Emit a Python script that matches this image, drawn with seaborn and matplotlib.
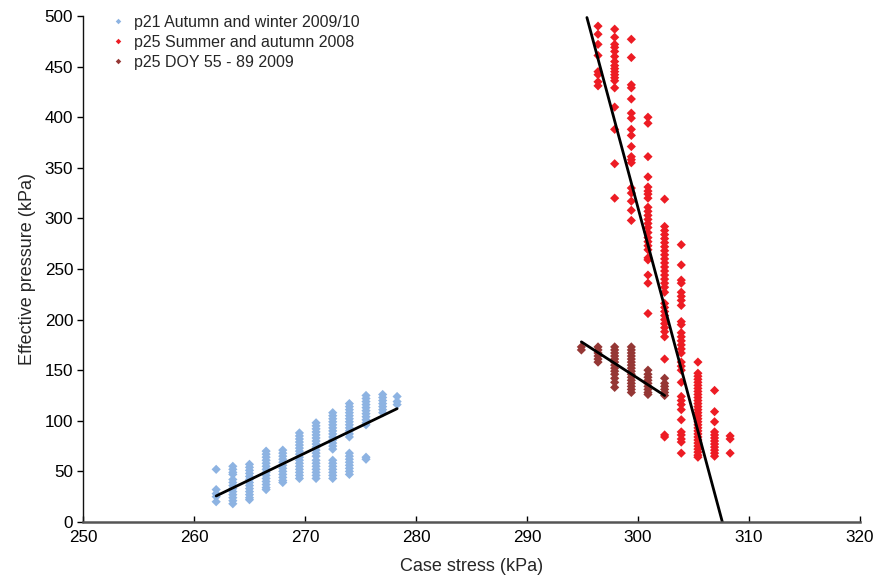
import numpy as np
import pandas as pd
import matplotlib
matplotlib.use("Agg")
import matplotlib.pyplot as plt
import seaborn as sns

# ---------------- data ----------------
series_names = ["p21 Autumn and winter 2009/10",
                "p25 Summer and autumn 2008",
                "p25 DOY 55 - 89 2009"]
series_colors = ["#8DB3E2", "#ED1C24", "#953735"]

blue_x = [262, 263.5, 265, 266.5, 268, 269.5, 271, 272.5, 274, 275.5, 277, 278.3]
blue_y = [
    [52, 32, 28, 25, 20],
    [55, 52, 49, 47, 42, 39, 36, 33, 30, 27, 24, 21, 18],
    [57, 54, 51, 48, 45, 42, 39, 36, 33, 30, 27, 24, 22],
    [70, 67, 64, 61, 58, 55, 52, 49, 46, 43, 40, 37, 34, 32],
    [71, 68, 65, 62, 59, 56, 53, 50, 47, 44, 41, 39],
    [88, 85, 82, 79, 76, 73, 70, 67, 64, 61, 58, 55, 52, 49, 46, 43],
    [98, 95, 92, 89, 86, 83, 80, 77, 74, 71, 68, 65, 61, 58, 55, 52, 49, 46, 43],
    [108, 105, 102, 99, 96, 93, 90, 87, 84, 81, 78, 75, 72, 61, 58, 55, 52, 49, 46, 43],
    [117, 114, 111, 108, 105, 102, 99, 96, 93, 90, 87, 84, 68, 65, 62, 59, 56, 53, 50, 47],
    [125, 122, 119, 116, 113, 110, 107, 104, 101, 98, 96, 64, 62],
    [126, 123, 120, 117, 114, 111, 108],
    [124, 119, 116],
]

red_x = [296.4, 297.9, 299.4, 300.9, 302.4, 303.9, 305.4, 306.9, 308.3]
red_y = [
    [490, 482, 472, 461, 445, 442, 435, 431],
    [487, 479, 472, 469, 465, 460, 455, 451, 448, 445, 442, 439, 436, 429, 410, 388, 354, 320],
    [477, 459, 432, 429, 418, 404, 399, 388, 382, 371, 361, 358, 355, 330, 325, 317, 308, 298],
    [400, 394, 361, 341, 331, 327, 324, 320, 311, 307, 303, 299, 295, 291, 286, 281, 277, 273,
     269, 261, 259, 244, 236, 206],
    [319, 292, 288, 284, 280, 276, 272, 268, 264, 260, 256, 252, 248, 244, 240, 236, 232, 227,
     216, 212, 208, 204, 200, 196, 192, 188, 183, 161, 84, 86],
    [274, 254, 239, 236, 227, 223, 219, 214, 198, 195, 187, 183, 179, 175, 171, 167, 158, 154,
     150, 138, 124, 120, 116, 111, 101, 89, 86, 82, 79, 68],
    [158, 147, 144, 141, 138, 135, 132, 129, 126, 123, 120, 117, 114, 111, 108, 105, 102, 99,
     96, 93, 90, 87, 84, 81, 78, 75, 72, 69, 66, 64],
    [130, 109, 99, 89, 86, 83, 80, 77, 74, 71, 68, 65],
    [85, 82, 68],
]

brown_x = [294.9, 296.4, 297.9, 299.4, 300.9, 302.4]
brown_y = [
    [173, 170],
    [173, 170, 167, 164, 161, 158],
    [173, 170, 167, 164, 161, 158, 155, 152, 149, 146, 142, 138, 133],
    [173, 170, 167, 164, 161, 158, 155, 152, 149, 146, 143, 140, 137, 134, 131, 128],
    [150, 146, 143, 140, 137, 134, 131, 128, 126],
    [142, 137, 134, 131, 128, 125],
]

# trend lines: (x_start, x_end), (y_start, y_end)
trend_x = [[262.0, 278.3], [295.4, 307.6], [294.9, 302.4]]
trend_y = [[25.7, 112.0], [498.5, 0.0], [178.0, 125.0]]

x_ticks = [250, 260, 270, 280, 290, 300, 310, 320]
y_ticks = [0, 50, 100, 150, 200, 250, 300, 350, 400, 450, 500]

# ---------------- build table ----------------
rows = []
for name, xs, ys in zip(series_names, [blue_x, red_x, brown_x], [blue_y, red_y, brown_y]):
    for xv, col in zip(xs, ys):
        for yv in col:
            rows.append((name, xv, yv))
df = pd.DataFrame(rows, columns=["series", "x", "y"])

line_rows = []
for i, (lx, ly) in enumerate(zip(trend_x, trend_y)):
    for xv, yv in zip(lx, ly):
        line_rows.append((i, xv, yv))
ldf = pd.DataFrame(line_rows, columns=["id", "x", "y"])

# ---------------- plot ----------------
sns.set_style("ticks")
plt.rcParams["font.family"] = ["Liberation Sans", "DejaVu Sans"]

fig = plt.figure(figsize=(8.77, 5.76), dpi=100)
ax = fig.add_axes([0.0946, 0.0938, 0.8860, 0.8784])

sns.scatterplot(data=df, x="x", y="y", hue="series", hue_order=series_names,
                palette=series_colors, marker="D", s=22, linewidth=0, ax=ax)

for i in range(len(trend_x)):
    sns.lineplot(data=ldf[ldf["id"] == i], x="x", y="y", color="black",
                 linewidth=2, ax=ax, legend=False)

ax.set_xlim(250, 320)
ax.set_ylim(0, 500)
ax.set_xticks(x_ticks)
ax.set_yticks(y_ticks)
ax.tick_params(labelsize=12.3, width=1, colors="black")
ax.tick_params(axis="y", direction="out", length=4, pad=3)
ax.tick_params(axis="x", direction="in", length=4, pad=6)
ax.set_xlabel("Case stress (kPa)", fontsize=13, labelpad=9)
ax.set_ylabel("Effective pressure (kPa)", fontsize=13, labelpad=6)
sns.despine(ax=ax)
ax.spines["left"].set_color("#111111")
ax.spines["left"].set_linewidth(1)
ax.spines["bottom"].set_color("#555555")
ax.spines["bottom"].set_linewidth(1.8)

leg = ax.legend(loc="upper left", bbox_to_anchor=(0.016, 1.015), frameon=False,
                fontsize=11.5, handletextpad=0.0, labelspacing=0.32,
                markerscale=0.6, borderaxespad=0)

fig.savefig("out.png", dpi=100)
